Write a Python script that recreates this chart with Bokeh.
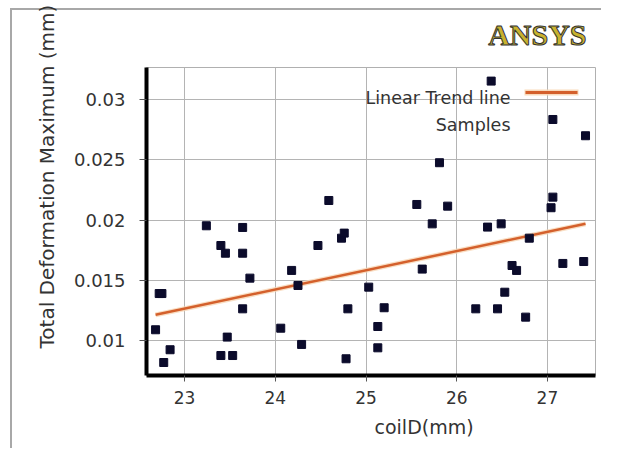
from bokeh.plotting import figure
from bokeh.models import FixedTicker, Label, BoxAnnotation, Range1d, Title
from bokeh.embed import file_html
from bokeh.resources import INLINE

# ---- data ----
coil_id = [22.68, 22.72, 22.75, 22.77, 22.84, 23.24, 23.40, 23.45, 23.47, 23.40,
           23.53, 23.64, 23.64, 23.72, 23.64, 24.06, 24.18, 24.25, 24.29, 24.47,
           24.59, 24.73, 24.76, 24.80, 24.78, 25.03, 25.13, 25.20, 25.13, 25.56,
           25.62, 25.73, 25.81, 25.90, 26.21, 26.34, 26.38, 26.45, 26.49, 26.53,
           26.61, 26.66, 26.80, 26.76, 27.04, 27.06, 27.06, 27.17, 27.40, 27.42]
deformation = [0.01089, 0.01390, 0.01390, 0.00817, 0.00923, 0.01953, 0.01789, 0.01725, 0.01028, 0.00875,
               0.00875, 0.01939, 0.01725, 0.01518, 0.01263, 0.01102, 0.01582, 0.01457, 0.00967, 0.01789,
               0.02163, 0.01850, 0.01892, 0.01263, 0.00848, 0.01443, 0.01116, 0.01272, 0.00939, 0.02130,
               0.01593, 0.01969, 0.02477, 0.02116, 0.01263, 0.01942, 0.03155, 0.01263, 0.01969, 0.01401,
               0.01623, 0.01582, 0.01850, 0.01194, 0.02103, 0.02191, 0.02836, 0.01640, 0.01656, 0.02701]
trend_x = [22.68, 27.42]
trend_y = [0.01213, 0.01969]

x_ticks = [23, 24, 25, 26, 27]
y_ticks = [0.01, 0.015, 0.02, 0.025, 0.03]
y_tick_labels = ["0.01", "0.015", "0.02", "0.025", "0.03"]

W, H = 601, 448

page_lines = ("linear-gradient(#a8a8a8,#a8a8a8) 10px 8px / 2px 440px no-repeat, "
              "linear-gradient(#a8a8a8,#a8a8a8) 10px 8px / 591px 2px no-repeat, white")

p = figure(width=W, height=H, output_backend="svg", toolbar_location=None,
           x_range=Range1d(22.58, 27.53), y_range=Range1d(0.00709, 0.03268),
           min_border_left=146, min_border_right=6, min_border_top=67, min_border_bottom=73,
           background_fill_color="white", border_fill_alpha=0,
           styles={"background": page_lines})

p.outline_line_color = "#b0b0b0"
p.grid.grid_line_color = "#b4b4b4"
p.grid.grid_line_width = 1

for ax in (p.xaxis[0], p.yaxis[0]):
    ax.axis_line_color = "black"
    ax.axis_line_width = 4
    ax.major_tick_line_color = "#555555"
    ax.major_tick_in = 0
    ax.minor_tick_line_color = None
    ax.major_label_text_color = "#333333"
    ax.major_label_text_font = "DejaVu Sans"

p.xaxis.ticker = FixedTicker(ticks=x_ticks)
p.xaxis.major_tick_out = 6
p.xaxis.major_label_standoff = 9
p.xaxis.major_label_text_font_size = "17px"

p.yaxis.ticker = FixedTicker(ticks=y_ticks)
p.yaxis.major_label_overrides = {t: s for t, s in zip(y_ticks, y_tick_labels)}
p.yaxis.major_tick_out = 7
p.yaxis.major_label_standoff = 14
p.yaxis.major_label_text_font_size = "18px"

# trend line with light halo
p.line(trend_x, trend_y, line_color="#f8d6b4", line_width=5, line_alpha=0.8)
p.line(trend_x, trend_y, line_color="#d4602c", line_width=2.5)

# samples
p.scatter(coil_id, deformation, marker="square", size=8,
          fill_color="#0b0b2b", line_color="#0b0b2b")

def canvas_box(l, r, t, b, color, alpha=1.0):
    return BoxAnnotation(left=l, right=r, top=t, bottom=b,
                         left_units="canvas", right_units="canvas",
                         top_units="canvas", bottom_units="canvas",
                         fill_color=color, fill_alpha=alpha, line_color=None,
                         level="overlay")

# legend (manual, text left of sample)
p.add_layout(Label(x=510, y=97, x_units="canvas", y_units="canvas",
                   text="Linear Trend line", text_align="right", text_baseline="alphabetic",
                   text_font="DejaVu Sans", text_font_size="17.5px", text_color="#333333"))
p.add_layout(Label(x=510, y=124, x_units="canvas", y_units="canvas",
                   text="Samples", text_align="right", text_baseline="alphabetic",
                   text_font="DejaVu Sans", text_font_size="17.5px", text_color="#333333"))
p.add_layout(canvas_box(524, 578, 89, 95, "#f8d6b4", 0.9))
p.add_layout(canvas_box(525, 577, 90.5, 93.5, "#d4602c"))

# axis titles
p.add_layout(Title(text="Total Deformation Maximum (mm)", align="left", offset=27, standoff=23,
                   text_font="DejaVu Sans", text_font_style="normal",
                   text_font_size="20px", text_color="#333333"), "left")
p.add_layout(Title(text="coilD(mm)", align="left", offset=228, standoff=15,
                   text_font="DejaVu Sans", text_font_style="normal",
                   text_font_size="19px", text_color="#333333"), "below")

# ANSYS logo
p.add_layout(Title(text="ANSYS", align="right", offset=9, standoff=30, vertical_align="top",
                   text_font="Liberation Serif", text_font_style="bold", text_font_size="30px",
                   text_color="#c9b22e", text_outline_color="#333333"), "above")

open("out.html", "w").write(file_html(p, INLINE))
